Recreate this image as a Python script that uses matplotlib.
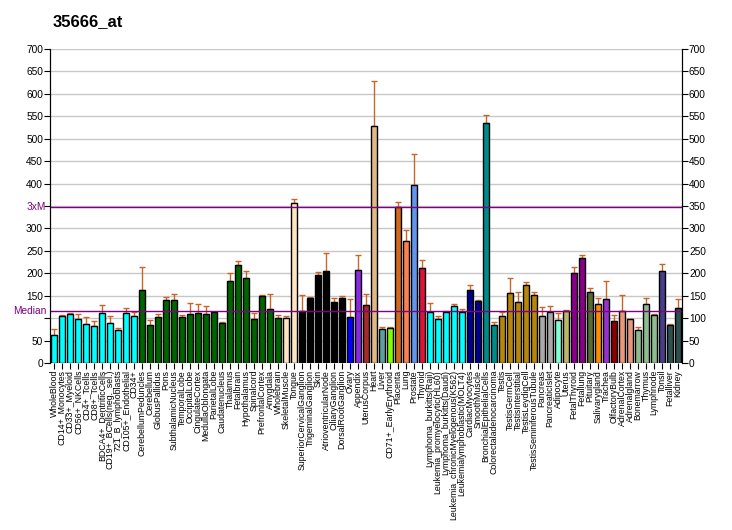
import numpy as np
import matplotlib
matplotlib.use("Agg")
import matplotlib.pyplot as plt

plt.rcParams['font.family'] = ['Liberation Sans', 'DejaVu Sans']

title = "35666_at"

tissues = [
    "WholeBlood", "CD14+_Monocytes", "CD33+_Myeloid", "CD56+_NKCells", "CD4+_Tcells",
    "CD8+_Tcells", "BDCA4+_DentriticCells", "CD19+_BCells(neg._sel.)", "721_B_lymphoblasts",
    "CD105+_Endothelial", "CD34+", "CerebellumPeduncles", "Cerebellum", "GlobusPallidus",
    "Pons", "SubthalamicNucleus", "TemporalLobe", "OccipitalLobe", "CingulateCortex",
    "MedullaOblongata", "ParietalLobe", "Caudatenucleus", "Thalamus", "Fetalbrain",
    "Hypothalamus", "Spinalcord", "PrefrontalCortex", "Amygdala", "Wholebrain",
    "SkeletalMuscle", "Tongue", "SuperiorCervicalGanglion", "TrigeminalGanglion", "Skin",
    "AtrioventricularNode", "CiliaryGanglion", "DorsalRootGanglion", "Ovary", "Appendix",
    "UterusCorpus", "Heart", "Liver", "CD71+_EarlyErythroid", "Placenta", "Lung",
    "Prostate", "Thyroid", "Lymphoma_burkitts(Raji)", "Leukemia_promyelocytic(HL60)",
    "Lymphoma_burkitts(Daudi)", "Leukemia_chronicMyelogenous(K562)",
    "Leukemialymphoblastic(MOLT4)", "CardiacMyocytes", "SmoothMuscle",
    "BronchialEpithelialCells", "Colorectaladenocarcinoma", "Testis", "TestisGermCell",
    "TestisInterstitial", "TestisLeydigCell", "TestisSeminiferousTubule", "Pancreas",
    "PancreaticIslet", "Adipocyte", "Uterus", "FetalThyroid", "Fetallung", "Pituitary",
    "Salivarygland", "Trachea", "OlfactoryBulb", "AdrenalCortex", "Adrenalgland",
    "Bonemarrow", "Thymus", "Lymphnode", "Tonsil", "Fetalliver", "Kidney",
]

values = [
    63, 105, 110, 97, 88, 83, 112, 90, 74, 112, 105,
    163, 85, 103, 141, 141, 103, 110, 112, 110, 114,
    90, 183, 219, 190, 99, 150, 121, 101,
    101, 357, 116, 146, 197, 206, 137, 146, 103, 208,
    130, 528, 76, 78, 347, 271, 396, 211, 113, 97,
    113, 128, 113, 162, 138, 536, 84, 104, 155,
    135, 173, 151, 104, 114, 96, 116, 201, 235, 159,
    132, 143, 94, 116, 97, 74, 132, 108, 204, 85, 123,
]

err_top = [
    76, 107, 111, 110, 102, 94, 130, 105, 79, 123, 114,
    214, 96, 110, 148, 154, 108, 134, 131, 128, 114,
    92, 200, 227, 205, 111, 152, 154, 107,
    105, 366, 152, 148, 203, 245, 146, 150, 143, 241,
    154, 628, 80, 80, 358, 296, 465, 229, 133, 104,
    117, 131, 120, 175, 140, 552, 91, 113, 189,
    158, 180, 158, 124, 128, 111, 118, 213, 241, 168,
    146, 183, 108, 152, 99, 80, 146, 110, 221, 88, 143,
]

colors = (
    ["#00FFFF"] * 11 + ["#006400"] * 18 + ["#FFE4C4"] * 2 + ["#000000"] * 6
    + ["#0000FF", "#8A2BE2", "#A52A2A", "#DEB887", "#5F9EA0", "#7FFF00",
       "#D2691E", "#FF7F50", "#6495ED", "#DC143C"]
    + ["#00FFFF"] * 5 + ["#00008B"] * 2 + ["#008B8B"] * 2 + ["#B8860B"] * 5
    + ["#A9A9A9"] * 2 + ["#7FFFD4", "#BDB76B"] + ["#8B008B"] * 2
    + ["#556B2F", "#FF8C00", "#9932CC", "#8B0000"] + ["#E9967A"] * 2
    + ["#8FBC8F"] * 3 + ["#483D8B"] + ["#2F4F4F"] * 2
)

vals = np.array(values, dtype=float)
errs = np.array(err_top, dtype=float) - vals
median = np.median(vals)
x = np.arange(len(tissues))

fig = plt.figure(figsize=(7.32, 5.30), dpi=100)
ax = fig.add_axes([50 / 732, 1 - 363 / 530, 632 / 732, 314 / 530])

for y in range(50, 701, 50):
    ax.axhline(y, color="#C8C8C8", lw=1, zorder=0)

ax.bar(x, vals, width=0.75, color=colors, edgecolor="black", linewidth=1, zorder=2)
ax.errorbar(x, vals, yerr=[np.zeros_like(errs), errs], fmt="none",
            ecolor="#C8662A", elinewidth=1, capsize=2.5, capthick=1, zorder=1)

ax.axhline(median, color="#800080", lw=1, zorder=3)
ax.axhline(3 * median, color="#800080", lw=1, zorder=3)

ax.set_xlim(-0.5, len(tissues) - 0.5)
ax.set_ylim(0, 700)
ax.set_xticks(x)
ax.set_xticklabels(tissues, rotation=90, fontsize=6.3)
ax.tick_params(axis="x", length=4, pad=1)

yt = list(range(0, 701, 50))
ax.set_yticks(yt)
ax.set_yticklabels(["" if t in (100, 350) else str(t) for t in yt], fontsize=7.3)
ax.tick_params(axis="y", length=4, pad=1)
ax.text(-1.0, median, "Median", color="#800080", fontsize=7.3, ha="right", va="center")
ax.text(-1.0, 3 * median, "3xM", color="#800080", fontsize=7.3, ha="right", va="center")

ax2 = ax.twinx()
ax2.set_ylim(0, 700)
ax2.set_yticks(yt)
ax2.set_yticklabels([str(t) for t in yt], fontsize=7.3)
ax2.tick_params(axis="y", length=4, pad=1)

for a in (ax, ax2):
    a.spines["top"].set_visible(False)
    a.spines["bottom"].set_visible(False)

fig.text(53 / 732, 1 - 22 / 530, title, fontsize=12, fontweight="bold", va="center")

fig.savefig("out.png", dpi=100)
